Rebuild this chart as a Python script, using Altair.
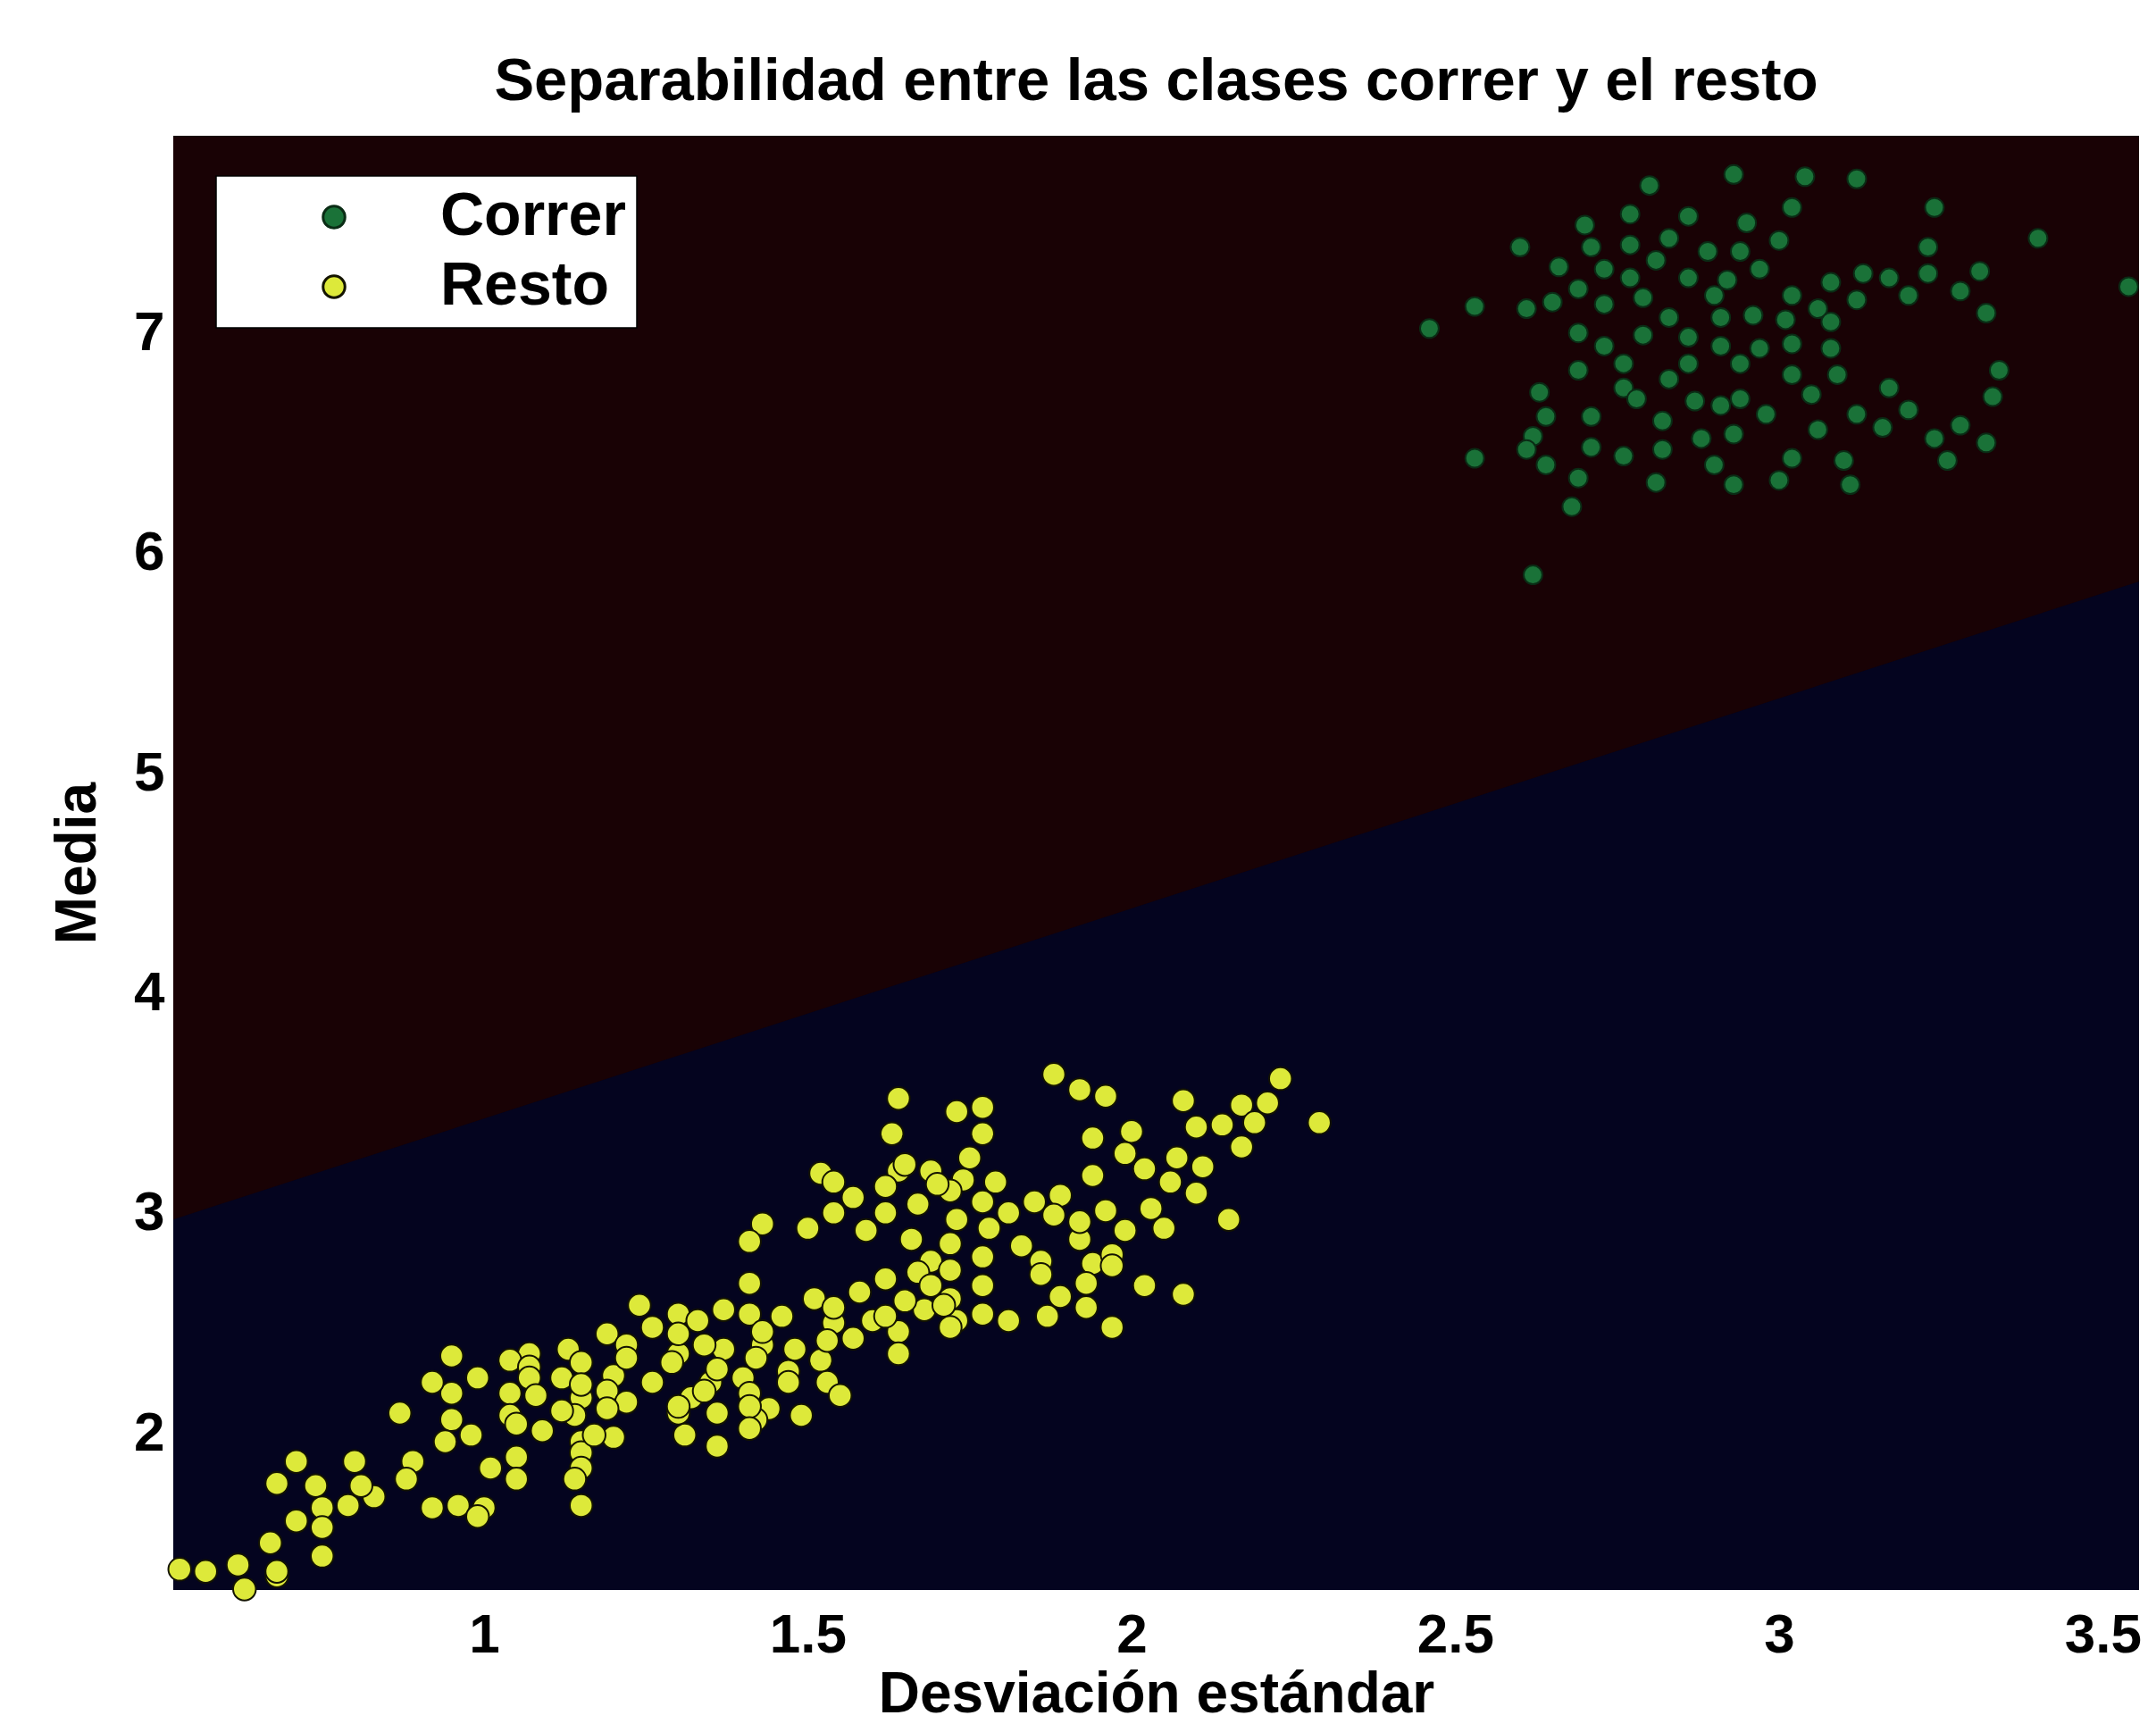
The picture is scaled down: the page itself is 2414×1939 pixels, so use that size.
import altair as alt
import pandas as pd

# ---------------- data ----------------
correr_x = [2.93, 3.04, 3.12, 2.80, 3.02, 3.24, 2.77, 2.86, 2.95, 2.70,
            3.40, 2.60, 2.77, 2.71, 2.83, 3.00, 2.89, 2.94, 3.23, 2.81,
            2.66, 2.73, 2.97, 3.13, 3.23, 3.31, 2.86, 2.92, 2.77, 3.08,
            3.17, 2.69, 2.90, 2.79, 3.02, 3.20, 3.28, 3.12, 2.53, 2.61,
            2.65, 2.73, 3.06, 3.32, 2.46, 2.83, 2.91, 2.96, 3.01, 3.08,
            2.69, 2.79, 2.86, 2.91, 2.73, 3.02, 2.97, 3.08, 2.76, 2.69,
            2.86, 2.94, 2.83, 3.02, 3.09, 3.34, 2.63, 2.76, 3.17, 2.87,
            2.94, 3.05, 3.33, 2.78, 2.64, 2.71, 2.82, 2.98, 3.12, 3.20,
            3.16, 2.91, 2.62, 3.06, 3.28, 2.88, 2.93, 3.24, 3.32, 2.53,
            2.61, 2.71, 2.82, 2.76, 3.02, 3.10, 3.26, 2.64, 2.90, 2.69,
            2.81, 2.93, 3.11, 3.00, 2.68, 2.62, 3.54]
correr_y = [7.72, 7.71, 7.70, 7.67, 7.57, 7.57, 7.54, 7.53, 7.50, 7.49,
            7.43, 7.39, 7.40, 7.39, 7.43, 7.42, 7.37, 7.37, 7.39, 7.33,
            7.30, 7.29, 7.29, 7.27, 7.27, 7.28, 7.25, 7.24, 7.25, 7.23,
            7.25, 7.20, 7.17, 7.16, 7.17, 7.17, 7.19, 7.15, 7.12, 7.11,
            7.14, 7.13, 7.11, 7.09, 7.02, 7.07, 7.07, 7.08, 7.06, 7.05,
            7.00, 6.99, 6.98, 6.94, 6.94, 6.95, 6.93, 6.93, 6.86, 6.83,
            6.86, 6.86, 6.79, 6.81, 6.81, 6.83, 6.73, 6.75, 6.75, 6.69,
            6.70, 6.72, 6.71, 6.70, 6.62, 6.62, 6.60, 6.63, 6.63, 6.65,
            6.57, 6.67, 6.53, 6.56, 6.58, 6.52, 6.54, 6.52, 6.50, 6.43,
            6.47, 6.48, 6.47, 6.44, 6.43, 6.42, 6.42, 6.40, 6.40, 6.34,
            6.32, 6.31, 6.31, 6.33, 6.21, 5.90, 7.21]

resto_x = [1.88, 1.92, 1.96, 2.23, 1.64, 2.08, 2.17, 2.21, 1.73, 1.77,
           2.29, 2.10, 2.14, 2.19, 2.00, 1.63, 1.77, 1.94, 2.17, 1.99,
           2.07, 1.75, 2.02, 1.52, 1.54, 1.64, 1.69, 1.74, 1.79, 1.94,
           2.06, 1.62, 1.89, 2.10, 1.57, 1.72, 1.85, 2.03, 1.77, 1.67,
           1.62, 1.54, 1.96, 1.81, 2.15, 1.88, 1.73, 1.43, 1.50, 1.59,
           1.78, 1.99, 2.05, 1.66, 1.92, 1.83, 1.72, 1.41, 1.77, 1.86,
           1.94, 1.69, 1.97, 1.62, 1.72, 1.86, 1.93, 2.02, 2.08, 1.77,
           1.41, 1.72, 1.89, 1.51, 1.68, 1.65, 1.24, 1.97, 1.81, 1.60,
           1.37, 1.30, 1.33, 1.73, 1.46, 1.54, 1.19, 1.64, 1.26, 1.57,
           1.13, 1.15, 1.22, 1.30, 1.37, 1.43, 1.48, 1.52, 1.64, 1.07,
           1.04, 0.95, 1.47, 1.40, 1.35, 1.26, 1.20, 1.12, 1.07, 1.53,
           1.41, 1.19, 1.04, 0.95, 1.32, 1.22, 1.15, 0.99, 0.92, 0.87,
           1.44, 1.36, 1.30, 1.14, 1.09, 1.04, 0.95, 0.98, 1.49, 1.42,
           1.15, 1.31, 1.36, 1.20, 1.05, 1.01, 0.89, 0.94, 1.15, 0.71,
           0.80, 0.68, 0.74, 0.88, 0.96, 0.83, 1.15, 0.75, 0.79, 1.15,
           0.92, 1.00, 0.71, 0.67, 0.75, 0.75, 0.53, 0.57, 0.62, 0.68,
           0.63, 0.68,
           1.70, 1.58, 1.67, 1.69, 1.54, 1.71, 1.72, 1.77, 1.41, 1.30,
           1.34, 1.43, 1.53, 1.29, 1.36, 1.42, 1.07, 1.15, 1.34, 1.47,
           1.55, 1.08, 1.12, 1.19, 1.30, 1.41, 1.05, 1.17, 1.41, 1.05,
           2.11, 1.65, 1.92, 1.97, 1.62, 1.87, 1.93, 1.22, 1.14, 0.81,
           0.99]
resto_y = [3.63, 3.56, 3.53, 3.61, 3.52, 3.51, 3.49, 3.50, 3.46, 3.48,
           3.41, 3.39, 3.40, 3.41, 3.37, 3.36, 3.36, 3.34, 3.30, 3.27,
           3.25, 3.25, 3.20, 3.18, 3.14, 3.19, 3.19, 3.15, 3.14, 3.17,
           3.14, 3.12, 3.08, 3.09, 3.07, 3.10, 3.05, 3.02, 3.05, 3.04,
           3.00, 3.00, 3.01, 3.00, 2.97, 2.99, 2.97, 2.95, 2.93, 2.92,
           2.93, 2.92, 2.93, 2.88, 2.88, 2.85, 2.86, 2.87, 2.80, 2.78,
           2.77, 2.78, 2.81, 2.70, 2.74, 2.72, 2.68, 2.67, 2.63, 2.67,
           2.68, 2.61, 2.62, 2.61, 2.56, 2.60, 2.58, 2.48, 2.51, 2.51,
           2.56, 2.54, 2.51, 2.51, 2.53, 2.50, 2.45, 2.46, 2.48, 2.43,
           2.38, 2.32, 2.40, 2.36, 2.38, 2.40, 2.38, 2.33, 2.36, 2.36,
           2.33, 2.35, 2.28, 2.25, 2.23, 2.23, 2.26, 2.25, 2.30, 2.23,
           2.18, 2.19, 2.18, 2.18, 2.16, 2.14, 2.16, 2.25, 2.23, 2.09,
           2.11, 2.09, 2.09, 2.08, 2.01, 2.08, 2.06, 1.99, 2.08, 2.06,
           1.96, 1.99, 1.94, 1.98, 1.89, 1.84, 1.87, 1.96, 1.91, 1.87,
           1.87, 1.77, 1.76, 1.79, 1.67, 1.71, 1.84, 1.66, 1.67, 1.67,
           1.66, 1.66, 1.60, 1.50, 1.57, 1.44, 1.38, 1.37, 1.40, 1.35,
           1.29, 1.37,
           3.13, 2.64, 2.73, 2.67, 2.57, 2.58, 2.48, 2.54, 2.54, 2.45,
           2.40, 2.46, 2.42, 2.32, 2.29, 2.34, 2.25, 2.22, 2.19, 2.23,
           2.17, 2.17, 2.10, 2.11, 2.12, 2.12, 2.04, 1.99, 2.02, 1.79,
           3.21, 3.22, 2.96, 2.76, 2.53, 2.53, 2.57, 2.34, 1.79, 1.76,
           1.62]

# decision boundary (straight line between the two regions)
boundary_x = [0.52, 3.556]
boundary_y = [2.97, 5.87]

x_domain = [0.52, 3.556]
y_domain = [1.286, 7.896]
x_ticks = [1, 1.5, 2, 2.5, 3, 3.5]
y_ticks = [2, 3, 4, 5, 6, 7]

classes = ["Correr", "Resto"]
fill_colors = ["#1a7238", "#dde93a"]
edge_colors = ["#0a2c15", "#141400"]

title_text = "Separabilidad entre las clases correr y el resto"
x_title = "Desviación estándar"
y_title = "Media"

FONT = "Liberation Sans"
RED_BG = "#190205"
BLUE_BG = "#04041f"

# ---------------- tables ----------------
pts = pd.DataFrame({
    "x": correr_x + resto_x,
    "y": correr_y + resto_y,
    "clase": ["Correr"] * len(correr_x) + ["Resto"] * len(resto_x),
})
bnd = pd.DataFrame({"x": boundary_x, "y": boundary_y,
                    "y0": [y_domain[0]] * len(boundary_x)})
frame = pd.DataFrame({"x0": [x_domain[0]], "x1": [x_domain[1]],
                      "y0": [y_domain[0]], "y1": [y_domain[1]]})

xs = alt.Scale(domain=x_domain, nice=False, zero=False)
ys = alt.Scale(domain=y_domain, nice=False, zero=False)

x_axis = alt.Axis(values=x_ticks, format="~g", title=x_title, grid=False, domain=False, ticks=False,
                  labelFont=FONT, labelFontSize=62, labelFontWeight="bold", labelColor="black",
                  labelPadding=20, titleFont=FONT, titleFontSize=64, titleFontWeight="bold",
                  titleColor="black", titlePadding=4, labelFlush=False)
y_axis = alt.Axis(values=y_ticks, format="~g", title=y_title, grid=False, domain=False, ticks=False,
                  labelFont=FONT, labelFontSize=62, labelFontWeight="bold", labelColor="black",
                  labelPadding=10, titleFont=FONT, titleFontSize=64, titleFontWeight="bold",
                  titleColor="black", titlePadding=30, labelFlush=False)

X = alt.X("x:Q", scale=xs, axis=x_axis)
Y = alt.Y("y:Q", scale=ys, axis=y_axis)

background = alt.Chart(frame).mark_rect(color=RED_BG).encode(
    x=alt.X("x0:Q", scale=xs, axis=x_axis), x2="x1:Q",
    y=alt.Y("y0:Q", scale=ys, axis=y_axis), y2="y1:Q",
)

region = alt.Chart(bnd).mark_area(color=BLUE_BG, opacity=1).encode(
    x=X, y=Y, y2="y0:Q"
)

legend = alt.Legend(title=None, orient="none", legendX=48, legendY=45,
                    fillColor="white", strokeColor="black",
                    padding=12, labelFont=FONT, labelFontSize=68, labelFontWeight="bold",
                    labelColor="black", symbolSize=600, symbolStrokeWidth=3,
                    symbolType="circle", symbolOffset=86, labelOffset=85,
                    labelLimit=400, rowPadding=10)

points = alt.Chart(pts).mark_point(filled=True, opacity=1, strokeWidth=2).encode(
    x=X, y=Y,
    fill=alt.Fill("clase:N", scale=alt.Scale(domain=classes, range=fill_colors), legend=legend),
    stroke=alt.Stroke("clase:N", scale=alt.Scale(domain=classes, range=edge_colors), legend=legend),
    size=alt.when(alt.datum.clase == "Correr").then(alt.value(440)).otherwise(alt.value(650)),
)

chart = alt.layer(background, region, points).properties(
    width=2201, height=1628,
    title=alt.Title(title_text, font=FONT, fontSize=67, fontWeight="bold", color="black",
                    anchor="middle", offset=26),
    autosize=alt.AutoSizeParams(type="none"),
    padding={"left": 186, "top": 144, "right": 6, "bottom": 151},
    background="white",
).configure_view(strokeWidth=0).configure_legend(strokeWidth=1.5)

chart.save("out.html", embed_options={"renderer": "svg", "actions": False})
